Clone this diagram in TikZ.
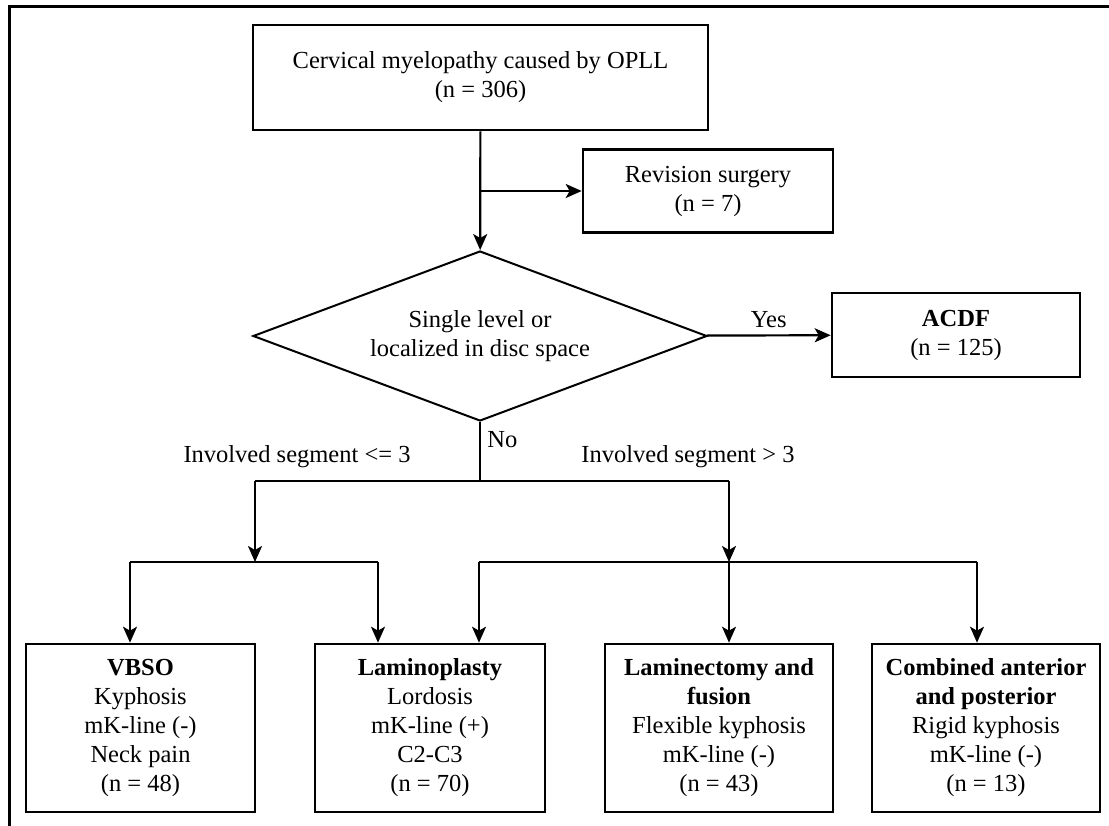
\documentclass[tikz,border=0pt]{standalone}
\usepackage{fontspec}
\setmainfont{Liberation Serif}
\usetikzlibrary{arrows.meta,positioning,shapes.geometric}

\begin{document}
\begin{tikzpicture}[
  x=1pt, y=-1pt,
  >={Stealth[length=16pt,width=14pt,inset=4pt]},
  every node/.style={font=\fontsize{24.5}{29}\selectfont},
  box/.style={draw,line width=2.6pt,align=center,inner sep=0pt},
  decide/.style={draw,diamond,line width=2pt,align=center,inner sep=0pt,aspect=2.67},
  arrow/.style={->,line width=2.2pt},
  link/.style={line width=2.2pt}
]
  \useasboundingbox (0,0) rectangle (1109,826);
  % frame
  \draw[line width=3pt] (9,826) -- (9,7) -- (1109,7);

  \node[box,minimum width=455pt,minimum height=105pt] (start) at (480.5,77.5)
    {Cervical myelopathy caused by OPLL\\(n = 306)};
  \node[box,minimum width=250pt,minimum height=83pt] (revision) at (708,191)
    {Revision surgery\\(n = 7)};
  \node[decide,minimum width=454pt,minimum height=170pt] (decision) at (480,336)
    {Single level or\\localized in disc space};
  \node[box,minimum width=248pt,minimum height=84pt] (acdf) at (956,335)
    {\textbf{ACDF}\\(n = 125)};

  % treatment boxes
  \node[box,minimum width=229pt,minimum height=168pt] (vbso) at (140.5,728)
    {\textbf{VBSO}\\Kyphosis\\mK-line (-)\\Neck pain\\(n = 48)};
  \node[box,minimum width=230pt,minimum height=168pt] (lamp) at (430,728)
    {\textbf{Laminoplasty}\\Lordosis\\mK-line (+)\\C2-C3\\(n = 70)};
  \node[box,minimum width=228pt,minimum height=168pt] (lame) at (719,728)
    {\textbf{Laminectomy and}\\\textbf{fusion}\\Flexible kyphosis\\mK-line (-)\\(n = 43)};
  \node[box,minimum width=228pt,minimum height=168pt] (comb) at (986,728)
    {\textbf{Combined anterior}\\\textbf{and posterior}\\Rigid kyphosis\\mK-line (-)\\(n = 13)};

  % branch points
  \coordinate (nosplit) at (480,481);
  \coordinate (lowsplit) at (255,481);
  \coordinate (highsplit) at (729,481);
  \coordinate (lowbar) at (255,562);
  \coordinate (highbar) at (729,562);

  \draw[arrow] (start) -- (decision);
  \draw[arrow] (start.south |- revision.west) -- (revision);
  \draw[arrow] (decision) -- node[above=3pt] {Yes} (acdf);
  \draw[link] (decision) -- node[right=3pt,pos=0.3] {No} (nosplit);
  \draw[link] (lowsplit) -- (highsplit);
  \node (lowlabel) at (297,457) {Involved segment <= 3};
  \node (highlabel) at (688,457) {Involved segment > 3};
  \draw[arrow] (lowsplit) -- (lowbar);
  \draw[arrow] (highsplit) -- (highbar);

  % second level
  \draw[link] (130,562) -- (378,562);
  \draw[link] (479,562) -- (977,562);
  \draw[arrow] (130,562) -- (vbso.north -| 130,0);
  \draw[arrow] (378,562) -- (lamp.north -| 378,0);
  \draw[arrow] (479,562) -- (lamp.north -| 479,0);
  \draw[arrow] (highbar) -- (lame.north -| highbar);
  \draw[arrow] (977,562) -- (comb.north -| 977,0);
\end{tikzpicture}
\end{document}
